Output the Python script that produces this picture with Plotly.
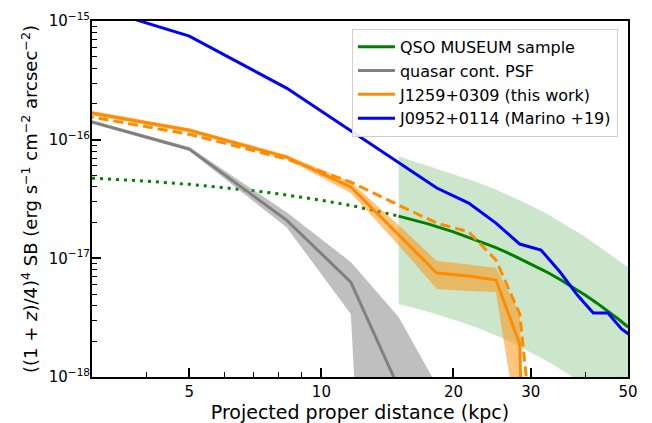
import math
import plotly.graph_objects as go

# ---------------- data ----------------
r_bins = [1.67, 5.0, 8.33, 11.67, 15.0, 18.33, 21.67, 25.0, 28.33, 31.67,
          35.0, 38.33, 41.67, 45.0, 48.33, 51.67]

# J0952+0114 (Marino +19)
sb_j0952 = [2.58e-15, 7.46e-16, 2.72e-16, 1.19e-16, 6.35e-17, 3.91e-17,
            2.92e-17, 1.98e-17, 1.32e-17, 1.175e-17, 7.67e-18, 4.9e-18,
            3.46e-18, 3.46e-18, 2.54e-18, 2.12e-18]

# J1259+0309 (this work)
r_j1259 = [1.67, 5.0, 8.33, 11.67, 15.0, 18.33, 21.67, 25.0, 28.33, 31.67]
sb_j1259 = [2.45e-16, 1.20e-16, 7.13e-17, 3.99e-17, 1.58e-17, 7.52e-18,
            7.1e-18, 6.56e-18, 1.90e-18, 1e-25]
sb_j1259_hi = [2.55e-16, 1.25e-16, 7.42e-17, 4.39e-17, 1.91e-17, 9.48e-18,
               8.87e-18, 8.28e-18, 3.46e-18, 1e-25]
sb_j1259_lo = [2.35e-16, 1.15e-16, 6.87e-17, 3.55e-17, 1.29e-17, 5.51e-18,
               5.30e-18, 5.2e-18, 3e-19, 1e-25]
sb_j1259_alt = [2.27e-16, 1.11e-16, 6.87e-17, 4.39e-17, 2.81e-17, 1.98e-17,
                1.67e-17, 9.67e-18, 3.40e-18, 6e-20]

# quasar continuum PSF
r_psf = [1.67, 5.0, 8.33, 11.67, 15.0, 18.33, 21.67]
sb_psf = [2.57e-16, 8.34e-17, 2.10e-17, 6.31e-18, 8.1e-19, 1e-25, 1e-25]
sb_psf_hi = [2.65e-16, 8.67e-17, 2.45e-17, 9.31e-18, 3.20e-18, 8.5e-19, 1e-25]
sb_psf_lo = [2.49e-16, 8.02e-17, 1.83e-17, 3.40e-18, 1e-25, 1e-25, 1e-25]

# QSO MUSEUM sample
r_museum_in = [3, 4, 5, 6, 7, 8, 10, 12, 15]
sb_museum_in = [4.74e-17, 4.47e-17, 4.20e-17, 3.95e-17, 3.72e-17, 3.49e-17,
                3.09e-17, 2.73e-17, 2.27e-17]
r_museum = [15, 17.5, 20, 22.5, 25, 27.5, 30, 32.5, 35, 37.5, 40, 42.5,
            45, 47.5, 50]
sb_museum = [2.27e-17, 1.95e-17, 1.67e-17, 1.43e-17, 1.23e-17, 1.05e-17,
             9.0e-18, 7.74e-18, 6.64e-18, 5.69e-18, 4.88e-18, 4.19e-18,
             3.59e-18, 3.08e-18, 2.64e-18]
sb_museum_hi = [7.24e-17, 6.03e-17, 5.13e-17, 4.42e-17, 3.80e-17, 3.24e-17,
                2.79e-17, 2.40e-17, 2.04e-17, 1.76e-17, 1.51e-17, 1.29e-17,
                1.11e-17, 9.55e-18, 8.41e-18]
sb_museum_lo = [4.12e-18, 3.55e-18, 3.05e-18, 2.63e-18, 2.24e-18, 1.91e-18,
                1.62e-18, 1.38e-18, 1.17e-18, 1.0e-18, 8.5e-19, 7.2e-19,
                6.1e-19, 5.1e-19, 4.4e-19]

x_ticks = [5, 10, 20, 30, 50]
x_ticktext = ["5", "10", "20", "30", "50"]
x_minor = [4, 6, 7, 8, 9, 40]
y_ticks = [1e-18, 1e-17, 1e-16, 1e-15]
y_ticktext = ["10<sup>−18</sup>", "10<sup>−17</sup>", "10<sup>−16</sup>", "10<sup>−15</sup>"]
y_minor = [k * 10.0 ** e for e in (-18, -17, -16) for k in range(2, 10)]

GREEN = "#008000"
GRAY = "#808080"
ORANGE = "#ff8c00"
BLUE = "#0000ff"
LW = 3


def band(x, hi, lo, color):
    return go.Scatter(x=list(x) + list(x)[::-1], y=list(hi) + list(lo)[::-1],
                      mode="lines", fill="toself", fillcolor=color,
                      line=dict(width=0, color=color), hoverinfo="skip",
                      showlegend=False)


fig = go.Figure()
fig.add_trace(band(r_museum, sb_museum_hi, sb_museum_lo, "rgba(0,128,0,0.2)"))
fig.add_trace(go.Scatter(x=r_museum_in, y=sb_museum_in, mode="lines",
                         line=dict(color=GREEN, width=LW, dash="3px,5px"),
                         showlegend=False))
fig.add_trace(go.Scatter(x=r_museum, y=sb_museum, mode="lines",
                         line=dict(color=GREEN, width=LW),
                         name="QSO MUSEUM sample"))
fig.add_trace(band(r_psf, sb_psf_hi, sb_psf_lo, "rgba(128,128,128,0.5)"))
fig.add_trace(go.Scatter(x=r_psf, y=sb_psf, mode="lines",
                         line=dict(color=GRAY, width=LW),
                         name="quasar cont. PSF"))
fig.add_trace(band(r_j1259, sb_j1259_hi, sb_j1259_lo, "rgba(255,140,0,0.5)"))
fig.add_trace(go.Scatter(x=r_j1259, y=sb_j1259, mode="lines",
                         line=dict(color=ORANGE, width=LW),
                         name="J1259+0309 (this work)"))
fig.add_trace(go.Scatter(x=r_j1259, y=sb_j1259_alt, mode="lines",
                         line=dict(color=ORANGE, width=LW, dash="10px,5px"),
                         showlegend=False))
fig.add_trace(go.Scatter(x=r_bins, y=sb_j0952, mode="lines",
                         line=dict(color=BLUE, width=LW),
                         name="J0952+0114 (Marino +19)"))

axis_common = dict(showline=True, linecolor="black", linewidth=2, mirror=True,
                   showgrid=False, zeroline=False, ticks="inside",
                   ticklen=9, tickwidth=1.5, tickcolor="black",
                   tickfont=dict(size=15, color="black"))

# the page body adds an 8px offset, so margins are compensated for it
fig.update_layout(
    width=652, height=423,
    margin=dict(l=84, r=32, t=13, b=54),
    paper_bgcolor="white", plot_bgcolor="white",
    font=dict(family="DejaVu Sans", color="black"),
    xaxis=dict(type="log", range=[math.log10(3), math.log10(50)],
               tickmode="array", tickvals=x_ticks, ticktext=x_ticktext,
               minor=dict(tickmode="array", tickvals=x_minor, ticks="inside",
                          ticklen=5, tickwidth=1.2, tickcolor="black",
                          showgrid=False),
               title=dict(text="Projected proper distance (kpc)",
                          font=dict(size=19), standoff=6),
               automargin=False, **axis_common),
    yaxis=dict(type="log", range=[-18, -15],
               tickmode="array", tickvals=y_ticks, ticktext=y_ticktext,
               ticklabelstandoff=-3,
               minor=dict(tickmode="array", tickvals=y_minor, ticks="inside",
                          ticklen=5, tickwidth=1.2, tickcolor="black",
                          showgrid=False),
               title=dict(text="((1 + <i>z</i>)/4)<sup>4</sup> SB (erg s<sup>−1</sup> cm<sup>−2</sup> arcsec<sup>−2</sup>)",
                          font=dict(size=18), standoff=6),
               automargin=False, **axis_common),
    legend=dict(x=0.485, y=0.978, xanchor="left", yanchor="top",
                bgcolor="rgba(255,255,255,0.9)", bordercolor="#d0d0d0",
                borderwidth=1, font=dict(size=16, color="black"),
                itemwidth=37, tracegroupgap=0),
)

fig.write_html("out.html")
